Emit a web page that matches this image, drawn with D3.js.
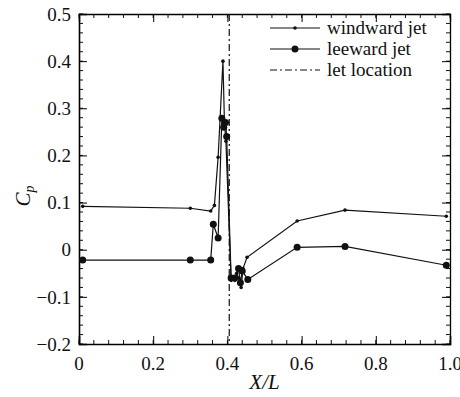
<!DOCTYPE html>
<html>
<head>
<meta charset="utf-8">
<script src="https://cdn.jsdelivr.net/npm/d3@7"></script>
<style>
  body { margin: 0; background: #fff; }
</style>
</head>
<body>
<div id="chart"></div>
<script>
// Data
const windX  = [0.01, 0.30, 0.355, 0.365, 0.375, 0.388, 0.392, 0.396, 0.41, 0.42, 0.425, 0.43, 0.437, 0.442, 0.453, 0.588, 0.717, 0.99];
const windCp = [0.092, 0.088, 0.082, 0.094, 0.196, 0.40, 0.27, 0.23, -0.065, -0.065, -0.05, -0.06, -0.08, -0.04, -0.016, 0.061, 0.084, 0.071];
const leeX   = [0.01, 0.30, 0.355, 0.362, 0.375, 0.385, 0.39, 0.395, 0.398, 0.41, 0.42, 0.43, 0.435, 0.44, 0.455, 0.588, 0.717, 0.99];
const leeCp  = [-0.022, -0.022, -0.022, 0.054, 0.025, 0.279, 0.26, 0.27, 0.24, -0.06, -0.06, -0.04, -0.07, -0.045, -0.063, 0.005, 0.007, -0.033];
const jetX = 0.405;
const xTicks = [0, 0.2, 0.4, 0.6, 0.8, 1.0];
const yTicks = [-0.2, -0.1, 0, 0.1, 0.2, 0.3, 0.4, 0.5];
const legendLabels = ["windward jet", "leeward jet", "let location"];

const margin = { top: 14, right: 10, bottom: 53, left: 79 },
    width = 460 - margin.left - margin.right,
    height = 397 - margin.top - margin.bottom;

const root = d3.select("#chart")
    .append("svg")
    .attr("width", 460)
    .attr("height", 397)
    .attr("font-family", "Liberation Serif");

const svg = root.append("g")
    .attr("transform", `translate(${margin.left},${margin.top})`);

const x = d3.scaleLinear().domain([0, 1]).range([0, width]);
const y = d3.scaleLinear().domain([-0.2, 0.5]).range([height, 0]);

const fmt = d => d === 0 ? "0" : (d < 0 ? "\u2212" + Math.abs(d).toFixed(1) : d.toFixed(1));

// Minor ticks (inward)
const xMinor = d3.range(0, 1.0001, 0.04);
const yMinor = d3.range(-0.2, 0.5001, 0.02);

const tickGroup = svg.append("g").attr("stroke", "#111").attr("stroke-width", 1);
xMinor.forEach(v => {
    tickGroup.append("line").attr("x1", x(v)).attr("x2", x(v)).attr("y1", height).attr("y2", height - 4);
    tickGroup.append("line").attr("x1", x(v)).attr("x2", x(v)).attr("y1", 0).attr("y2", 4);
});
yMinor.forEach(v => {
    tickGroup.append("line").attr("x1", 0).attr("x2", 4).attr("y1", y(v)).attr("y2", y(v));
    tickGroup.append("line").attr("x1", width).attr("x2", width - 4).attr("y1", y(v)).attr("y2", y(v));
});

// Axes: lines and major ticks from d3, labels written separately
svg.append("g")
    .attr("transform", `translate(0,${height})`)
    .call(d3.axisBottom(x).tickValues(xTicks).tickSize(-8).tickFormat(""))
    .call(g => g.select(".domain").attr("stroke-width", 1.6));
svg.append("g")
    .call(d3.axisLeft(y).tickValues(yTicks).tickSize(-8).tickFormat(""))
    .call(g => g.select(".domain").attr("stroke-width", 1.6));
svg.append("g").call(d3.axisTop(x).tickValues(xTicks).tickSize(-8).tickFormat(""))
    .call(g => g.select(".domain").attr("stroke-width", 1.3));
svg.append("g").attr("transform", `translate(${width},0)`)
    .call(d3.axisRight(y).tickValues(yTicks).tickSize(-8).tickFormat(""))
    .call(g => g.select(".domain").attr("stroke-width", 1.3));

svg.append("g").selectAll("text").data(xTicks).join("text")
    .attr("x", d => x(d)).attr("y", height + 26)
    .attr("text-anchor", "middle")
    .attr("font-family", "Liberation Serif").attr("font-size", 19).attr("fill", "#111")
    .text(d => d === 0 ? "0" : d.toFixed(1));

svg.append("g").selectAll("text").data(yTicks).join("text")
    .attr("x", -8).attr("y", d => y(d)).attr("dy", "0.35em")
    .attr("text-anchor", "end")
    .attr("font-family", "Liberation Serif").attr("font-size", 19).attr("fill", "#111")
    .text(fmt);

// Jet location line
svg.append("line")
    .attr("x1", x(jetX)).attr("x2", x(jetX))
    .attr("y1", 0).attr("y2", height)
    .attr("stroke", "#111").attr("stroke-width", 1.2)
    .attr("stroke-dasharray", "7,3,2,3");

const line = d3.line().x(d => x(d[0])).y(d => y(d[1]));
const windPts = windX.map((v, i) => [v, windCp[i]]);
const leePts = leeX.map((v, i) => [v, leeCp[i]]);

svg.append("path").datum(windPts)
    .attr("fill", "none").attr("stroke", "#111").attr("stroke-width", 1.2)
    .attr("d", line);
svg.append("g").selectAll("circle").data(windPts).join("circle")
    .attr("cx", d => x(d[0])).attr("cy", d => y(d[1])).attr("r", 1.8).attr("fill", "#111");

svg.append("path").datum(leePts)
    .attr("fill", "none").attr("stroke", "#111").attr("stroke-width", 1.2)
    .attr("d", line);
svg.append("g").selectAll("circle").data(leePts).join("circle")
    .attr("cx", d => x(d[0])).attr("cy", d => y(d[1])).attr("r", 3.5).attr("fill", "#111");

// Legend
const legend = svg.append("g").attr("transform", `translate(${270 - margin.left},0)`);
legendLabels.forEach((lab, i) => {
    const ly = 14 + i * 21;
    const ln = legend.append("line")
        .attr("x1", 0).attr("x2", 50).attr("y1", ly).attr("y2", ly)
        .attr("stroke", "#111").attr("stroke-width", 1.2);
    if (i === 2) ln.attr("stroke-dasharray", "7,3,2,3");
    if (i < 2) legend.append("circle").attr("cx", 25).attr("cy", ly).attr("r", i === 0 ? 1.8 : 3.5).attr("fill", "#111");
    legend.append("text").attr("x", 57).attr("y", ly).attr("dy", "0.33em")
        .attr("font-size", 19).attr("font-family", "Liberation Serif").attr("fill", "#111").text(lab);
});

// Axis titles
svg.append("text")
    .attr("transform", `translate(${30 - margin.left},${196 - margin.top}) rotate(-90)`)
    .attr("text-anchor", "middle").attr("fill", "#111")
    .attr("font-size", 21).attr("font-style", "italic").attr("font-family", "Liberation Serif")
    .html('C<tspan dy="4" font-size="14">p</tspan>');

svg.append("text")
    .attr("x", width / 2).attr("y", height + 45)
    .attr("text-anchor", "middle").attr("fill", "#111")
    .attr("font-size", 21).attr("font-style", "italic").attr("font-family", "Liberation Serif")
    .text("X/L");
</script>
</body>
</html>
